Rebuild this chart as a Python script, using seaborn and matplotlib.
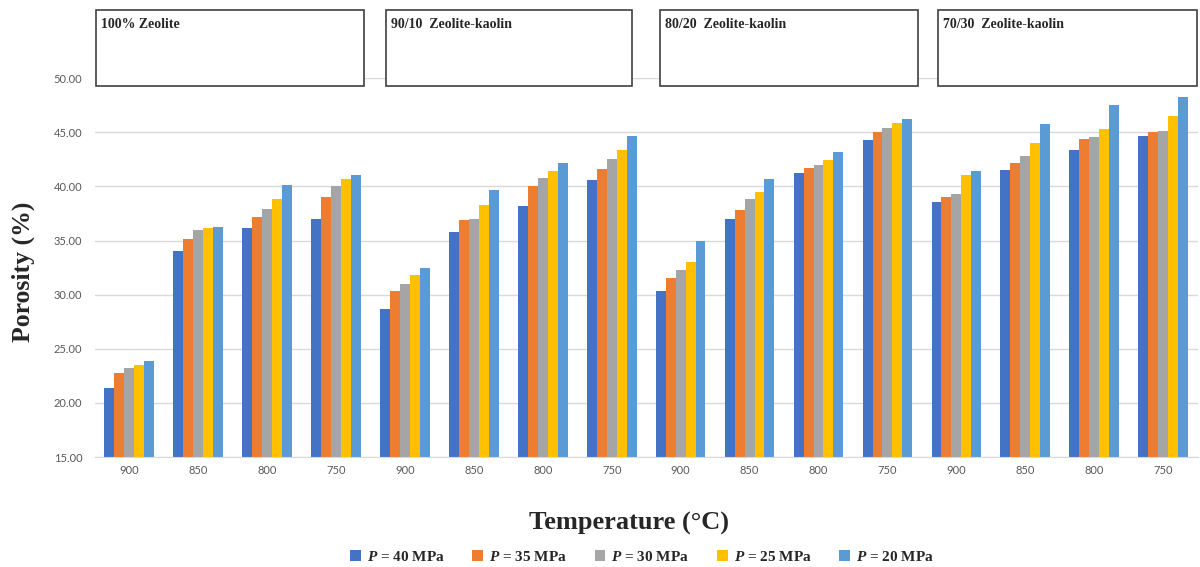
import pandas as pd
import matplotlib.pyplot as plt
import seaborn as sns
from matplotlib.patches import Rectangle

# mezclas y temperaturas (eje x repetido por mezcla)
mezclas = ['100% Zeolite', '90/10  Zeolite-kaolin', '80/20  Zeolite-kaolin', '70/30  Zeolite-kaolin']
temperaturas = ['900', '850', '800', '750']
presiones = [r'$P$ = 40 MPa', r'$P$ = 35 MPa', r'$P$ = 30 MPa', r'$P$ = 25 MPa', r'$P$ = 20 MPa']

# porosidad (%), 16 barras por serie
p40 = [21.4, 34.05, 36.2, 37.0, 28.7, 35.8, 38.15, 40.6, 30.3, 37.0, 41.2, 44.25, 38.55, 41.5, 43.35, 44.7]
p35 = [22.8, 35.1, 37.2, 39.0, 30.3, 36.9, 40.0, 41.6, 31.5, 37.8, 41.7, 45.0, 39.05, 42.15, 44.35, 45.0]
p30 = [23.2, 36.0, 37.95, 40.0, 31.0, 37.0, 40.8, 42.55, 32.25, 38.85, 42.0, 45.4, 39.3, 42.8, 44.55, 45.1]
p25 = [23.5, 36.2, 38.8, 40.7, 31.85, 38.25, 41.4, 43.35, 33.05, 39.5, 42.45, 45.9, 41.1, 44.05, 45.35, 46.5]
p20 = [23.85, 36.3, 40.1, 41.1, 32.45, 39.65, 42.2, 44.65, 35.0, 40.7, 43.2, 46.2, 41.4, 45.75, 47.5, 48.3]

colores = ['#4472C4', '#ED7D31', '#A5A5A5', '#FFC000', '#5B9BD5']

# tabla larga para seaborn
categorias = [f'{m}|{t}' for m in mezclas for t in temperaturas]
filas = []
for pres, serie in zip(presiones, [p40, p35, p30, p25, p20]):
    for cat, val in zip(categorias, serie):
        filas.append({'cat': cat, 'presion': pres, 'porosidad': val})
df = pd.DataFrame(filas)

sns.set_style('white')
plt.rcParams['font.family'] = ['Liberation Serif', 'DejaVu Sans']
plt.rcParams['mathtext.fontset'] = 'custom'
plt.rcParams['mathtext.it'] = 'Liberation Serif:italic:bold'
plt.rcParams['mathtext.rm'] = 'Liberation Serif:bold'

fig = plt.figure(figsize=(12, 5.67), dpi=100)
ax = fig.add_axes([0.079, 0.194, 0.919, 0.668])

sns.barplot(data=df, x='cat', y='porosidad', hue='presion', order=categorias,
            hue_order=presiones, palette=colores, width=0.72, ax=ax,
            saturation=1, edgecolor='none')

ax.set_ylim(15, 50)
ax.set_yticks(range(15, 51, 5))
ax.set_yticklabels([f'{v:.2f}' for v in range(15, 51, 5)], family='Lato', size=8, color='#595959')
ax.set_xticks(range(len(categorias)))
ax.set_xticklabels(temperaturas * 4, family='Lato', size=8, color='#595959')
ax.tick_params(axis='y', length=0, pad=9)
ax.tick_params(axis='x', length=0, pad=6)
ax.grid(axis='y', color='#d9d9d9', linewidth=1)
ax.set_axisbelow(True)
for s in ['top', 'right', 'left']:
    ax.spines[s].set_visible(False)
ax.spines['bottom'].set_color('#d9d9d9')
ax.set_xlim(-0.5, len(categorias) - 0.5)

ax.set_xlabel('Temperature (°C)', fontsize=19, fontweight='bold')
ax.xaxis.set_label_coords(0.484, -0.145)
ax.set_ylabel('Porosity (%)', fontsize=18.5, fontweight='bold')
ax.yaxis.set_label_coords(-0.054, 0.488)

# cajas con el nombre de cada mezcla
cajas_x = [96, 386, 660, 938]
cajas_w = [268, 246, 258, 259]
for nombre, x0, w in zip(mezclas, cajas_x, cajas_w):
    fig.patches.append(Rectangle((x0 / 1200, 1 - 86 / 567), w / 1200, 76 / 567,
                                 transform=fig.transFigure, facecolor='white',
                                 edgecolor='#404040', linewidth=1.2, zorder=5))
    fig.text((x0 + 5) / 1200, 1 - 24 / 567, nombre, fontsize=10, fontweight='bold',
             va='center', ha='left', zorder=6)

sns.move_legend(ax, 'center', bbox_to_anchor=(0.535, 0.018), bbox_transform=fig.transFigure,
                ncol=5, frameon=False, title=None, handlelength=0.7, handleheight=0.7,
                handletextpad=0.4, columnspacing=1.8,
                prop={'family': 'Liberation Serif', 'weight': 'bold', 'size': 11})

fig.savefig('out.png', dpi=100)
